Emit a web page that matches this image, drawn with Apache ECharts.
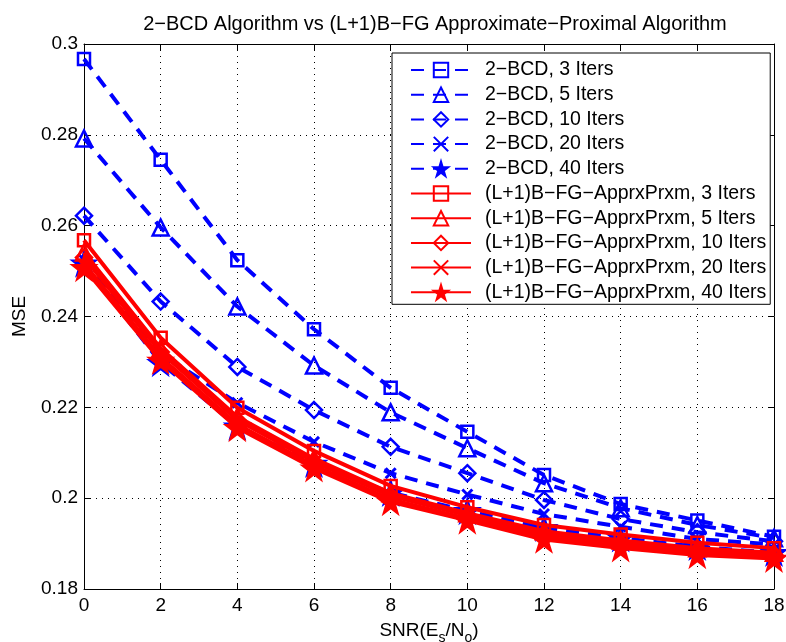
<!DOCTYPE html>
<html><head><meta charset="utf-8">
<script src="https://cdn.jsdelivr.net/npm/echarts@6/dist/echarts.min.js"></script>
<style>html,body{margin:0;padding:0;background:#fff}#c{width:786px;height:642px}</style>
</head><body><div id="c"></div>
<script>
const snr = [0, 2, 4, 6, 8, 10, 12, 14, 16, 18];
const bcd3  = [0.2967, 0.2745, 0.2524, 0.2372, 0.2243, 0.2146, 0.2051, 0.1987, 0.1951, 0.1915];
const bcd5  = [0.2792, 0.2596, 0.2422, 0.2292, 0.2189, 0.2110, 0.2033, 0.1978, 0.1941, 0.1912];
const bcd10 = [0.2622, 0.2433, 0.2289, 0.2194, 0.2113, 0.2055, 0.1996, 0.1954, 0.1925, 0.1905];
const bcd20 = [0.2525, 0.2318, 0.2210, 0.2124, 0.2055, 0.2008, 0.1965, 0.1937, 0.1910, 0.1898];
const bcd40 = [0.2517, 0.2298, 0.2158, 0.2076, 0.2012, 0.1972, 0.1935, 0.1912, 0.1893, 0.1880];
const fg3  = [0.2568, 0.2353, 0.2199, 0.2104, 0.2027, 0.1980, 0.1941, 0.1920, 0.1902, 0.1890];
const fg5  = [0.2541, 0.2330, 0.2179, 0.2087, 0.2011, 0.1967, 0.1927, 0.1907, 0.1890, 0.1880];
const fg10 = [0.2530, 0.2322, 0.2172, 0.2080, 0.2005, 0.1962, 0.1921, 0.1901, 0.1885, 0.1876];
const fg20 = [0.2516, 0.2310, 0.2162, 0.2072, 0.1997, 0.1955, 0.1914, 0.1894, 0.1879, 0.1870];
const fg40 = [0.2507, 0.2303, 0.2155, 0.2066, 0.1992, 0.1951, 0.1909, 0.1890, 0.1875, 0.1867];
const xTicks = [0, 2, 4, 6, 8, 10, 12, 14, 16, 18];
const yTicks = [0.18, 0.2, 0.22, 0.24, 0.26, 0.28, 0.3];

const STAR = 'path://M50,0 L61,35 L98,35 L68,57 L79,91 L50,70 L21,91 L32,57 L2,35 L39,35 Z';
const XMARK = 'path://M0,0 L10,10 M10,0 L0,10';
const FONT = 'Liberation Sans';
const BLUE = '#0000ff', RED = '#ff0000';

function mk(name, data, color, dashed, marker) {
  let symbol, size, filled = false;
  if (marker === 'sq') { symbol = 'rect'; size = 12; }
  else if (marker === 'tri') { symbol = 'triangle'; size = 16; }
  else if (marker === 'dia') { symbol = 'diamond'; size = 16; }
  else if (marker === 'x') { symbol = XMARK; size = 10; }
  else { symbol = STAR; size = 22; filled = true; }
  return {
    name, type: 'line', data: snr.map((x, i) => [x, data[i]]),
    symbol, symbolSize: size, showAllSymbol: true,
    lineStyle: { color, width: 4, type: dashed ? [13, 9] : 'solid' },
    itemStyle: { color: filled ? color : 'rgba(255,255,255,0)', borderColor: color, borderWidth: marker === 'x' ? 3 : 2.5 },
    emphasis: { disabled: true }, animation: false, z: dashed ? 2 : 3
  };
}

const series = [
  mk('2\u2212BCD, 3 Iters', bcd3, BLUE, true, 'sq'),
  mk('2\u2212BCD, 5 Iters', bcd5, BLUE, true, 'tri'),
  mk('2\u2212BCD, 10 Iters', bcd10, BLUE, true, 'dia'),
  mk('2\u2212BCD, 20 Iters', bcd20, BLUE, true, 'x'),
  mk('2\u2212BCD, 40 Iters', bcd40, BLUE, true, 'star'),
  mk('(L+1)B\u2212FG\u2212ApprxPrxm, 3 Iters', fg3, RED, false, 'sq'),
  mk('(L+1)B\u2212FG\u2212ApprxPrxm, 5 Iters', fg5, RED, false, 'tri'),
  mk('(L+1)B\u2212FG\u2212ApprxPrxm, 10 Iters', fg10, RED, false, 'dia'),
  mk('(L+1)B\u2212FG\u2212ApprxPrxm, 20 Iters', fg20, RED, false, 'x'),
  mk('(L+1)B\u2212FG\u2212ApprxPrxm, 40 Iters', fg40, RED, false, 'star')
];

const fmtY = v => String(parseFloat(v.toFixed(2)));
const baseX = {
  type: 'value', min: 0, max: 18, interval: 2,
  axisLine: { show: true, onZero: false, lineStyle: { color: '#000', width: 1 } },
  axisTick: { show: true, inside: true, length: 6, lineStyle: { color: '#000' } },
};
const baseY = {
  type: 'value', min: 0.18, max: 0.3, interval: 0.02,
  axisLine: { show: true, onZero: false, lineStyle: { color: '#000', width: 1 } },
  axisTick: { show: true, inside: true, length: 6, lineStyle: { color: '#000' } },
};

const chart = echarts.init(document.getElementById('c'), null, { renderer: 'canvas' });
chart.setOption({
  backgroundColor: '#fff',
  animation: false,
  title: {
    text: '2\u2212BCD Algorithm vs (L+1)B\u2212FG Approximate\u2212Proximal Algorithm',
    left: 430, top: 9, textAlign: 'center',
    textStyle: { fontFamily: FONT, fontSize: 20, fontWeight: 'normal', color: '#000' }
  },
  grid: { left: 84, right: 12, top: 44, bottom: 53, containLabel: false, outerBoundsMode: 'none' },
  legend: {
    orient: 'vertical', left: 392, top: 53, itemWidth: 60, itemHeight: 18, itemGap: 4.7,
    padding: [7, 4, 2, 18],
    backgroundColor: '#fff', borderColor: '#000', borderWidth: 1,
    textStyle: { fontFamily: FONT, fontSize: 19.5, lineHeight: 18, color: '#000', padding: [0, 0, 0, 9] },
    data: series.map(s => s.name)
  },
  xAxis: [
    Object.assign({}, baseX, {
      position: 'bottom',
      axisLabel: { color: '#000', fontFamily: FONT, fontSize: 19, margin: 7 },
      splitLine: { show: true, lineStyle: { color: '#000', type: [1, 5], width: 1 } },
      name: 'SNR(E{s|s}/N{s|o})', nameLocation: 'middle', nameGap: 28,
      nameTextStyle: { color: '#000', fontFamily: FONT, fontSize: 19,
        rich: { s: { fontFamily: FONT, fontSize: 14, color: '#000', verticalAlign: 'bottom', padding: [14, 0, 0, 0] } } }
    }),
    Object.assign({}, baseX, { position: 'top', axisLabel: { show: false }, splitLine: { show: false } })
  ],
  yAxis: [
    Object.assign({}, baseY, {
      position: 'left',
      axisLabel: { color: '#000', fontFamily: FONT, fontSize: 19, margin: 6, formatter: fmtY },
      splitLine: { show: true, lineStyle: { color: '#000', type: [1, 5], width: 1 } },
      name: 'MSE', nameLocation: 'middle', nameGap: 55, nameRotate: 90,
      nameTextStyle: { color: '#000', fontFamily: FONT, fontSize: 19 }
    }),
    Object.assign({}, baseY, { position: 'right', axisLabel: { show: false }, splitLine: { show: false } })
  ],
  series
});
</script></body></html>
